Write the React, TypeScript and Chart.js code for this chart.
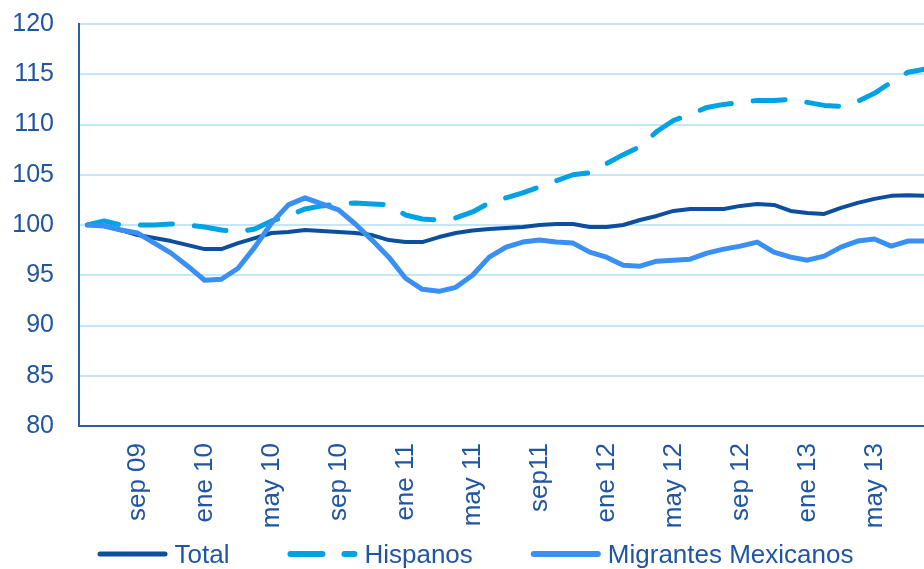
import React, { useEffect, useRef } from "react";
import { Chart, registerables } from "chart.js";

Chart.register(...registerables);

const categories = [
  "jun 09", "jul 09", "ago 09", "sep 09", "oct 09", "nov 09", "dic 09",
  "ene 10", "feb 10", "mar 10", "abr 10", "may 10", "jun 10", "jul 10", "ago 10", "sep 10", "oct 10", "nov 10", "dic 10",
  "ene 11", "feb 11", "mar 11", "abr 11", "may 11", "jun 11", "jul 11", "ago 11", "sep 11", "oct 11", "nov 11", "dic 11",
  "ene 12", "feb 12", "mar 12", "abr 12", "may 12", "jun 12", "jul 12", "ago 12", "sep 12", "oct 12", "nov 12", "dic 12",
  "ene 13", "feb 13", "mar 13", "abr 13", "may 13", "jun 13", "jul 13", "ago 13",
];

const tickLabels = [
  "sep 09", "ene 10", "may 10", "sep 10", "ene 11", "may 11",
  "sep11", "ene 12", "may 12", "sep 12", "ene 13", "may 13",
];

const total = [
  100, 99.9, 99.5, 99.0, 98.7, 98.4, 98.0, 97.6, 97.6, 98.2, 98.7, 99.2, 99.3, 99.5, 99.4, 99.3, 99.2,
  99.0, 98.5, 98.3, 98.3, 98.8, 99.2, 99.45, 99.6, 99.7, 99.8, 100.0, 100.1, 100.1, 99.8, 99.8, 100.0,
  100.5, 100.9, 101.4, 101.6, 101.6, 101.6, 101.9, 102.1, 102.0, 101.4, 101.2, 101.1, 101.7, 102.2,
  102.6, 102.9, 102.95, 102.9,
];

const hispanos = [
  100, 100.4, 100.0, 100.0, 100.0, 100.1, 100.0, 99.8, 99.5, 99.3, 99.6, 100.4, 100.9, 101.6, 101.9,
  102.1, 102.2, 102.1, 102.0, 101.0, 100.6, 100.5, 100.7, 101.3, 102.2, 102.7, 103.2, 103.8, 104.4,
  105.0, 105.2, 106.1, 107.0, 107.8, 109.3, 110.4, 111.0, 111.7, 112.0, 112.2, 112.4, 112.4, 112.5,
  112.2, 111.9, 111.8, 112.3, 113.1, 114.2, 115.2, 115.5,
];

const migrantes = [
  100, 99.9, 99.5, 99.2, 98.2, 97.2, 95.9, 94.5, 94.6, 95.7, 97.8, 100.2, 102.0, 102.7, 102.1, 101.5,
  100.1, 98.5, 96.8, 94.7, 93.6, 93.4, 93.8, 95.0, 96.8, 97.8, 98.3, 98.5, 98.3, 98.2, 97.3, 96.8,
  96.0, 95.9, 96.4, 96.5, 96.6, 97.2, 97.6, 97.9, 98.3, 97.3, 96.8, 96.5, 96.9, 97.8, 98.4, 98.6,
  97.9, 98.4, 98.4,
];

const seriesNames = ["Total", "Hispanos", "Migrantes Mexicanos"];

const TEXT = "#1F55A3";
const AXIS = "#2B5EA8";
const GRID = "#C3E7F8";
const FONT = "Arial, 'Liberation Sans', sans-serif";

const W = 951;
const H = 569;

const noPad = (s: any) => {
  s.paddingLeft = 0;
  s.paddingRight = 0;
  s.paddingTop = 0;
  s.paddingBottom = 0;
};

export default function App() {
  const ref = useRef<HTMLCanvasElement>(null);

  useEffect(() => {
    if (!ref.current) return;

    const customLegend = {
      id: "customLegend",
      afterDraw(chart: any) {
        const ctx = chart.ctx as CanvasRenderingContext2D;
        const fs = 26;
        const sample = 70;
        const textGap = 7;
        const itemGap = 58;
        ctx.save();
        ctx.font = `${fs}px ${FONT}`;
        const dsList = chart.data.datasets as any[];
        const widths = dsList.map(
          (ds) => sample + textGap + ctx.measureText(ds.label).width
        );
        const totalW =
          widths.reduce((a: number, b: number) => a + b, 0) +
          itemGap * (dsList.length - 1);
        let x = chart.width / 2 - totalW / 2;
        const lineY = chart.height - 15;
        const baseY = chart.height - 6;
        dsList.forEach((ds, i) => {
          const lw = ds.borderWidth + 1;
          ctx.beginPath();
          ctx.setLineDash(ds.borderDash || []);
          ctx.lineDashOffset = 0;
          ctx.lineWidth = lw;
          ctx.lineCap = "round";
          ctx.strokeStyle = ds.borderColor;
          ctx.moveTo(x + lw / 2, lineY);
          ctx.lineTo(x + sample - lw / 2, lineY);
          ctx.stroke();
          ctx.setLineDash([]);
          ctx.fillStyle = TEXT;
          ctx.textAlign = "left";
          ctx.textBaseline = "alphabetic";
          ctx.fillText(ds.label, x + sample + textGap, baseY);
          x += widths[i] + itemGap;
        });
        ctx.restore();
      },
    };

    const chart = new Chart(ref.current, {
      type: "line",
      data: {
        labels: categories,
        datasets: [
          {
            label: seriesNames[0],
            data: total,
            borderColor: "#0D4F9E",
            backgroundColor: "#0D4F9E",
            borderWidth: 4,
            pointRadius: 0,
            tension: 0,
            fill: false,
            borderCapStyle: "round",
            borderJoinStyle: "round",
            order: 3,
          },
          {
            label: seriesNames[1],
            data: hispanos,
            borderColor: "#00A2E4",
            backgroundColor: "#00A2E4",
            borderWidth: 5,
            borderDash: [32, 22],
            pointRadius: 0,
            tension: 0,
            fill: false,
            borderCapStyle: "round",
            borderJoinStyle: "round",
            order: 2,
          },
          {
            label: seriesNames[2],
            data: migrantes,
            borderColor: "#3A8FF2",
            backgroundColor: "#3A8FF2",
            borderWidth: 5,
            pointRadius: 0,
            tension: 0,
            fill: false,
            borderCapStyle: "round",
            borderJoinStyle: "round",
            order: 1,
          },
        ],
      },
      options: {
        responsive: false,
        maintainAspectRatio: false,
        devicePixelRatio: 1,
        animation: false,
        layout: { padding: { top: 24, left: 0, right: 0, bottom: 0 } },
        scales: {
          x: {
            type: "category",
            offset: true,
            grid: { display: false, drawTicks: false },
            border: { display: true, color: AXIS, width: 2 },
            ticks: {
              autoSkip: false,
              minRotation: 90,
              maxRotation: 90,
              padding: 17,
              color: TEXT,
              font: { size: 26, family: FONT },
              callback: (_v: any, i: number) =>
                i % 4 === 3 ? tickLabels[(i - 3) / 4] ?? "" : "",
            },
            afterFit: (s: any) => {
              s.height = 143;
              noPad(s);
            },
          },
          y: {
            min: 80,
            max: 120,
            grid: { color: GRID, lineWidth: 2, drawTicks: false },
            border: { display: true, color: AXIS, width: 2 },
            ticks: {
              stepSize: 5,
              padding: 25,
              color: TEXT,
              font: { size: 25, family: FONT },
            },
            afterFit: (s: any) => {
              s.width = 79;
              noPad(s);
            },
          },
          y2: {
            type: "linear",
            position: "right",
            display: true,
            grid: { display: false, drawTicks: false },
            border: { display: false },
            ticks: { display: false },
            afterFit: (s: any) => {
              s.width = 18;
              noPad(s);
            },
          },
        },
        plugins: {
          tooltip: { enabled: false },
          legend: { display: false },
        },
      },
      plugins: [customLegend],
    } as any);

    return () => chart.destroy();
  }, []);

  return (
    <div
      style={{
        position: "fixed",
        left: 0,
        top: 0,
        width: 924,
        height: 569,
        overflow: "hidden",
        background: "#fff",
      }}
    >
      <canvas
        ref={ref}
        width={W}
        height={H}
        style={{ display: "block", width: W, height: H }}
      />
    </div>
  );
}
